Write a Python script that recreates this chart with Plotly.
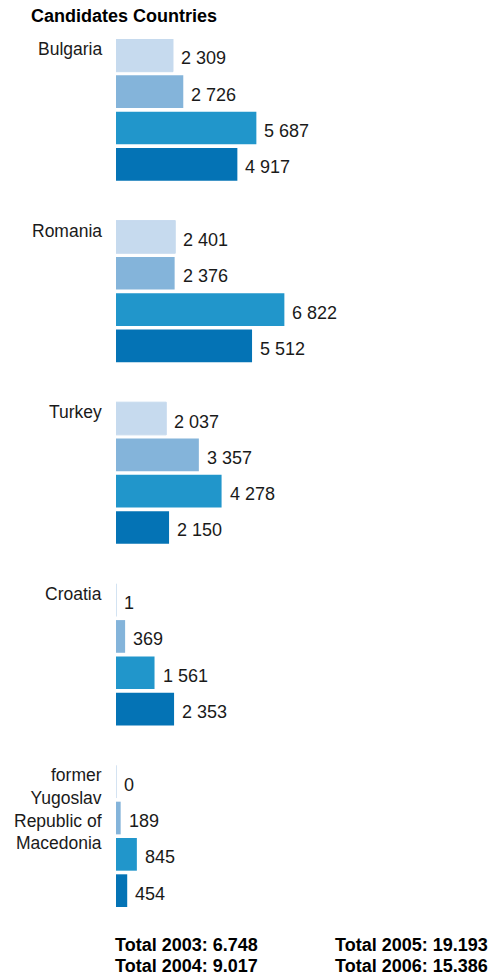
import plotly.graph_objects as go

countries = ["Bulgaria", "Romania", "Turkey", "Croatia",
             "former<br>Yugoslav<br>Republic of<br>Macedonia"]
years = ["2003", "2004", "2005", "2006"]
v2003 = [2309, 2401, 2037, 1, 0]
v2004 = [2726, 2376, 3357, 369, 189]
v2005 = [5687, 6822, 4278, 1561, 845]
v2006 = [4917, 5512, 2150, 2353, 454]
series = [v2003, v2004, v2005, v2006]
colors = ["#c6daee", "#84b4da", "#2196cb", "#0473b5"]

title = "Candidates Countries"
FONT = "Liberation Sans, Arial, sans-serif"

def fmt_space(v):
    return f"{v:,}".replace(",", " ")

def fmt_dot(v):
    return f"{v:,}".replace(",", ".")

fig = go.Figure()
annotations = []
for k, (yr, vals, col) in enumerate(zip(years, series, colors)):
    pos = [g * 5 + k for g in range(len(countries))]
    fig.add_trace(go.Bar(
        x=vals, y=pos, orientation="h", width=0.9, name=yr,
        marker=dict(color=col, line=dict(width=1 if k == 0 else 0, color=col)),
        hoverinfo="x", showlegend=False,
    ))
    for v, p in zip(vals, pos):
        annotations.append(dict(
            x=v, y=p, xref="x", yref="y", text=fmt_space(v), showarrow=False,
            xanchor="left", yanchor="middle", xshift=6, yshift=-3,
            font=dict(family=FONT, size=18, color="#1a1a1a"),
        ))

for g, c in enumerate(countries):
    annotations.append(dict(
        x=0, y=g * 5 - 0.45, xref="x", yref="y", text=c, showarrow=False,
        xanchor="right", yanchor="top", xshift=-12, yshift=2, align="right",
        font=dict(family=FONT, size=17.5, color="#1a1a1a"),
    ))

annotations.append(dict(
    x=0, y=1, xref="paper", yref="paper", text="<b>" + title + "</b>",
    showarrow=False, xanchor="left", yanchor="middle", xshift=-87, yshift=23,
    font=dict(family=FONT, size=18, color="#000000"),
))

totals = [sum(s) for s in series]
tot_pos = [(-3, -38), (-3, -59), (217, -38), (217, -59)]
for yr, t, (xs, ys) in zip(years, totals, tot_pos):
    annotations.append(dict(
        x=0, y=0, xref="paper", yref="paper",
        text=f"<b>Total {yr}: {fmt_dot(t)}</b>", showarrow=False,
        xanchor="left", yanchor="middle", xshift=xs, yshift=ys,
        font=dict(family=FONT, size=18, color="#000000"),
    ))

fig.update_layout(
    width=493, height=980,
    margin=dict(l=116, r=0, t=39, b=73),
    paper_bgcolor="white", plot_bgcolor="white",
    barmode="overlay",
    xaxis=dict(range=[0, 15275], visible=False, fixedrange=True),
    yaxis=dict(range=[23.45, -0.45], visible=False, fixedrange=True),
    annotations=annotations,
    font=dict(family=FONT),
)

fig.write_html("out.html",
               config={"displayModeBar": False},
               post_script="document.body.style.margin='0';")
